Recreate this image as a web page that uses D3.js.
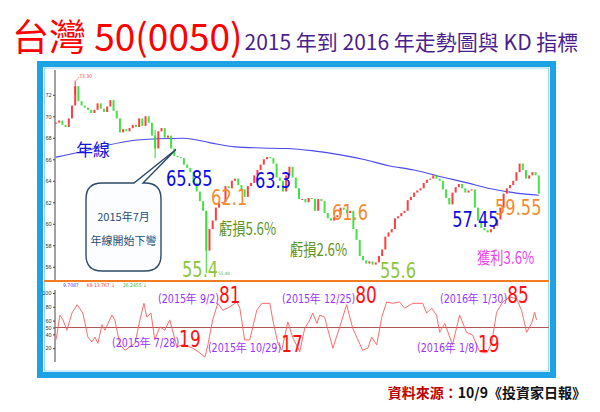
<!DOCTYPE html>
<html>
<head>
<meta charset="utf-8">
<script src="https://cdn.jsdelivr.net/npm/d3@7"></script>
<style>
  body { margin: 0; background: #fff; }
  svg text { font-family: "Noto Sans CJK TC", sans-serif; }
  .num { font-family: "Liberation Sans Narrow", "DejaVu Sans Condensed", "Liberation Sans", sans-serif; }
  .ax text { font-family: "Liberation Sans Narrow", "Liberation Sans", sans-serif; font-size: 5.5px; fill: #333; }
  .ax path, .ax line { stroke: #444; }
</style>
</head>
<body>
<svg id="chart" width="600" height="412"></svg>
<script>
// closing prices, one bar per two trading days
const closes = [
  69.4, 69.6, 69.2, 69.0, 69.8, 71.0, 72.8, 71.4, 71.0, 70.8,
  70.6, 70.3, 70.6, 71.2, 70.7, 70.4, 70.9, 71.5, 70.5, 69.8,
  68.5, 68.8, 68.6, 68.9, 69.2, 69.0, 69.8, 69.1, 70.0, 69.4,
  68.2, 67.0, 68.6, 68.9, 68.0, 68.2, 67.0, 66.3, 66.2, 66.1,
  65.5, 65.2, 64.8, 63.8, 63.0, 62.1, 61.2, 57.5, 59.5, 60.3,
  61.5, 61.9, 62.0, 63.5, 63.3, 64.0, 64.2, 63.6, 63.2, 62.5,
  63.5, 63.8, 64.5, 65.0, 65.5, 66.0, 66.2, 66.1, 65.6, 64.3,
  64.0, 63.0, 64.5, 65.3, 64.3, 63.3, 62.3, 62.3, 62.0, 62.4,
  62.3, 61.2, 62.3, 62.1, 61.0, 60.5, 60.3, 60.6, 60.8, 61.5,
  61.3, 61.0, 61.2, 59.5, 58.5, 57.0, 56.6, 56.3, 56.5, 56.2,
  56.4, 57.0, 57.6, 58.8, 59.2, 59.5, 60.5, 60.7, 61.0, 61.2,
  62.2, 62.5, 62.9, 63.1, 63.3, 63.8, 64.1, 64.2, 64.5, 64.2,
  64.0, 63.2, 62.4, 61.8, 62.9, 63.4, 63.7, 63.3, 62.9, 63.1,
  63.2, 61.5, 60.3, 59.6, 59.4, 59.2, 59.5, 59.8, 60.4, 61.5,
  62.8, 63.3, 63.6, 64.0, 64.8, 65.6, 65.0, 64.2, 64.5, 64.8,
  64.5, 62.8
];

// bars with long shadows
const spikeBars = [6, 31, 47];
const spikeHigh = [73.3, 68.7, 61.2];
const spikeLow = [72.0, 66.1, 55.4];

// x axis date labels, one every 8 bars
const dateLabels = [
  "2015/04/08", "2015/04/30", "2015/05/21", "2015/06/12", "2015/07/07",
  "2015/07/30", "2015/08/21", "2015/09/14", "2015/10/08", "2015/11/02",
  "2015/11/24", "2015/12/16", "2016/01/08", "2016/01/30", "2016/03/03",
  "2016/03/25", "2016/04/20", "2016/05/13", "2016/06/04", "2016/06/28"
];

// 年線 (yearly moving average)
const maBars = [0, 8, 16, 24, 32, 40, 48, 56, 64, 72, 80, 88, 96, 104, 112, 120, 128, 136, 144, 151];
const maValues = [66.2, 66.7, 67.3, 67.75, 67.9, 67.95, 67.55, 67.15, 67.05, 67.0,
                  66.8, 66.45, 66.0, 65.4, 65.0, 64.4, 63.85, 63.25, 62.85, 62.65];

// K9 line
const kdBars = [0, 1.25, 2.2, 3.4, 5, 6.6, 8.4, 10, 11.25, 12.2, 13.1, 14.4, 15.3, 17.5, 18.4,
  20, 21.6, 23.1, 24.7, 26.25, 27.5, 28.4, 29.7, 30.9, 32.5, 34, 35.6, 37.8, 39.7, 42.8,
  45, 46.6, 47.5, 49, 50.6, 52.2, 54.4, 56.6, 57.5, 59, 60.6, 62.8, 64.4, 66.9, 67.8,
  69.4, 70.6, 72.5, 74, 76.25, 77.8, 79.4, 80.3, 81.6, 82.5, 84, 86.6, 88.75, 90.9, 92.8,
  95.9, 97.5, 98.75, 100.3, 101.9, 103.4, 105.3, 107.5, 109, 111.6, 114.7, 115.9, 117.5, 119, 120,
  121.6, 124, 126.25, 128.4, 130.3, 132.5, 134.7, 136.25, 137.8, 139.7, 141.9, 144, 145.6, 147.2, 148.75,
  149.7, 150.3];
const kdValues = [32, 68, 61, 46, 71, 83, 71, 36, 29, 36, 27, 54, 46, 68, 61,
  25, 17, 22, 27, 61, 85, 65, 71, 32, 51, 46, 61, 22, 25, 20,
  13, 7, 25, 61, 85, 75, 80, 87, 78, 32, 32, 75, 85, 85, 61,
  27, 17, 58, 36, 15, 49, 61, 71, 56, 68, 65, 20, 51, 83, 49,
  17, 20, 36, 25, 65, 87, 85, 87, 78, 85, 85, 71, 78, 68, 43,
  56, 25, 68, 43, 39, 15, 13, 27, 72, 87, 94, 92, 75, 43, 56,
  72, 61];

const priceTicks = [56, 58, 60, 62, 64, 66, 68, 70, 72];
const kdTicks = [20, 40, 50, 60, 80, 100];

const svg = d3.select("#chart");

// frame
svg.append("rect").attr("x", 40).attr("y", 64).attr("width", 513).attr("height", 311)
  .attr("fill", "#fff").attr("stroke", "#1ea2e6").attr("stroke-width", 6);
svg.append("rect").attr("x", 44.5).attr("y", 68).attr("width", 504).attr("height", 303)
  .attr("fill", "none").attr("stroke", "#9ad6f3").attr("stroke-width", 1);

const x = d3.scaleLinear().domain([0, 152]).range([56, 542]);
const y = d3.scaleLinear().domain([55, 74]).range([277.5, 73.25]);
const yk = d3.scaleLinear().domain([0, 100]).range([362, 293]);

const defs = svg.append("defs");
defs.append("clipPath").attr("id", "plot").append("rect")
  .attr("x", 45).attr("y", 68).attr("width", 503).attr("height", 304);

// main panel axis
svg.append("g").attr("class", "ax").attr("transform", "translate(55,0)")
  .call(d3.axisLeft(y).tickValues(priceTicks).tickSize(2).tickPadding(1.5))
  .call(g => g.select(".domain").attr("d", "M0,70V281"));

// separator
svg.append("line").attr("x1", 44).attr("x2", 549).attr("y1", 281).attr("y2", 281)
  .attr("stroke", "#f47c20").attr("stroke-width", 2);

// MA line
svg.append("path")
  .datum(maBars.map((b, i) => [b, maValues[i]]))
  .attr("fill", "none").attr("stroke", "#4a4ae8").attr("stroke-width", 1.1)
  .attr("d", d3.line().x(d => x(d[0])).y(d => y(d[1])).curve(d3.curveMonotoneX));

// candles
const bars = closes.map((c, i) => ({ i, c, o: i ? closes[i - 1] : c }));
const cg = svg.append("g").attr("clip-path", "url(#plot)");
spikeBars.forEach((b, k) => {
  cg.append("line").attr("x1", x(b)).attr("x2", x(b))
    .attr("y1", y(spikeHigh[k])).attr("y2", y(spikeLow[k]))
    .attr("stroke", closes[b] >= closes[b - 1] ? "#ff3030" : "#30d830").attr("stroke-width", 1);
});
cg.selectAll(".bar").data(bars).join("rect")
  .attr("x", d => x(d.i) - 1)
  .attr("width", 2)
  .attr("y", d => y(Math.max(d.o, d.c)))
  .attr("height", d => Math.max(1, Math.abs(y(d.o) - y(d.c))))
  .attr("fill", d => d.c >= d.o ? "#ff2a2a" : "#2ee02e")
  .attr("opacity", 0.9);

// tiny high / low marks
svg.append("line").attr("x1", x(6) + 1).attr("y1", y(73.3)).attr("x2", x(6) + 4).attr("y2", y(73.3) - 4)
  .attr("stroke", "#ff5555").attr("stroke-width", 0.6);
svg.append("text").attr("class", "num").attr("x", x(6) + 4).attr("y", y(73.3) - 3)
  .attr("font-size", 5).attr("fill", "#ff4444").text("73.30");
svg.append("text").attr("class", "num").attr("x", x(47) + 12).attr("y", y(55.4) + 2)
  .attr("font-size", 4.5).attr("fill", "#44bb44").text("55.40");

// 年線 label
svg.append("text").attr("x", 76).attr("y", 156).attr("font-size", 17)
  .attr("fill", "#1414d8").text("年線");

// callout bubble
const bx0 = 86, bx1 = 161, by0 = 183, by1 = 271, r = 16;
const tip = [x(37.5), y(66.9)];
const bubble = d3.path();
bubble.moveTo(bx0 + r, by0);
bubble.lineTo(134, by0);
bubble.lineTo(tip[0], tip[1]);
bubble.lineTo(143, by0);
bubble.lineTo(bx1 - r, by0);
bubble.quadraticCurveTo(bx1, by0, bx1, by0 + r);
bubble.lineTo(bx1, by1 - r);
bubble.quadraticCurveTo(bx1, by1, bx1 - r, by1);
bubble.lineTo(bx0 + r, by1);
bubble.quadraticCurveTo(bx0, by1, bx0, by1 - r);
bubble.lineTo(bx0, by0 + r);
bubble.quadraticCurveTo(bx0, by0, bx0 + r, by0);
svg.append("path").attr("d", bubble.toString())
  .attr("fill", "#fbfdff").attr("stroke", "#2c4a6a").attr("stroke-width", 1.4);
svg.append("text").attr("x", 123.5).attr("y", 221).attr("text-anchor", "middle")
  .attr("font-size", 11).attr("fill", "#1f4e79").text("2015年7月");
svg.append("text").attr("x", 123.5).attr("y", 245).attr("text-anchor", "middle")
  .attr("font-size", 11).attr("fill", "#1f4e79").text("年線開始下彎");

// price annotations
const notes = [
  { t: "65.85", b: 34.4, p: 63.5, c: "#0a0ae6", num: true },
  { t: "62.1", b: 48.5, p: 61.74, c: "#f28c2e", num: true },
  { t: "63.3", b: 62.2, p: 63.33, c: "#0a0ae6", num: true },
  { t: "55.4", b: 39.4, p: 55.05, c: "#8cc63e", num: true },
  { t: "61.6", b: 86.3, p: 60.35, c: "#f28c2e", num: true },
  { t: "55.6", b: 101.3, p: 54.95, c: "#8cc63e", num: true },
  { t: "57.45", b: 123.9, p: 59.7, c: "#0a0ae6", num: true },
  { t: "59.55", b: 137.3, p: 60.81, c: "#f28c2e", num: true },
  { t: "虧損5.6%", b: 51, p: 58.95, c: "#5e9426", num: false },
  { t: "虧損2.6%", b: 73.2, p: 57.0, c: "#5e9426", num: false },
  { t: "獲利3.6%", b: 131.7, p: 56.26, c: "#ee44ee", num: false }
];
notes.forEach(n => {
  svg.append("text")
    .attr("class", n.num ? "num" : null)
    .attr("transform", `translate(${x(n.b)},${y(n.p)}) scale(${n.num ? 0.86 : 0.78},1)`)
    .attr("font-size", n.num ? 21 : 17)
    .attr("fill", n.c).text(n.t);
});

// KD panel
svg.append("g").attr("class", "ax").attr("transform", "translate(55,0)")
  .call(d3.axisLeft(yk).tickValues(kdTicks).tickSize(2).tickPadding(1.5))
  .call(g => g.select(".domain").attr("d", "M0,290V362"));
svg.append("line").attr("x1", 55).attr("x2", 549).attr("y1", yk(50)).attr("y2", yk(50))
  .attr("stroke", "#b05555").attr("stroke-width", 1.2);
svg.append("path")
  .datum(kdBars.map((b, i) => [b, kdValues[i]]))
  .attr("fill", "none").attr("stroke", "#ff5a5a").attr("stroke-width", 0.9)
  .attr("d", d3.line().x(d => x(d[0])).y(d => yk(d[1])));

// KD legend
const leg = svg.append("text").attr("class", "num").attr("x", 63).attr("y", 287).attr("font-size", 5);
leg.append("tspan").attr("fill", "#3344ff").text("9.7087");
leg.append("tspan").attr("dx", 8).attr("fill", "#ff3333").text("K9 13.767 ↓");
leg.append("tspan").attr("dx", 8).attr("fill", "#33bb33").text("26.2455 ↓");

// KD annotations
const kdNotes = [
  { d: "(2015年 9/2)", v: "81", b: 31.9, k: 85.5 },
  { d: "(2015年 7/28)", v: "19", b: 17.5, k: 21.7 },
  { d: "(2015年 10/29)", v: "17", b: 47.5, k: 14.5 },
  { d: "(2015年 12/25)", v: "80", b: 70.7, k: 85.5 },
  { d: "(2016年 1/8)", v: "19", b: 112.9, k: 14.5 },
  { d: "(2016年 1/30)", v: "85", b: 120.1, k: 85.5 }
];
kdNotes.forEach(n => {
  const t = svg.append("text").attr("class", "num")
    .attr("transform", `translate(${x(n.b)},${yk(n.k)}) scale(0.82,1)`);
  t.append("tspan").attr("font-size", 13).attr("fill", "#9933ff").text(n.d);
  t.append("tspan").attr("font-size", 23).attr("fill", "#ff1111").text(n.v);
});

// date axis
svg.append("g").attr("class", "ax").attr("transform", "translate(0,361)")
  .attr("clip-path", "url(#plot)")
  .call(d3.axisBottom(x).tickValues(dateLabels.map((d, i) => i * 8))
    .tickFormat((d, i) => dateLabels[i]).tickSize(2).tickPadding(1))
  .call(g => g.select(".domain").attr("d", "M-1,0H549"));

// titles
const title = svg.append("text").attr("x", 12).attr("y", 51).attr("font-size", 37)
  .attr("fill", "#ff0000").text("台灣 50(0050)");
const tEnd = 12 + title.node().getComputedTextLength();
svg.append("text").attr("x", tEnd + 2).attr("y", 50).attr("font-size", 21)
  .attr("fill", "#4b1e8e").text("2015 年到 2016 年走勢圖與 KD 指標");

const src = svg.append("text").attr("x", 586).attr("y", 398).attr("text-anchor", "end")
  .attr("font-size", 14).attr("font-weight", "bold");
src.append("tspan").attr("fill", "#c00000").text("資料來源：");
src.append("tspan").attr("fill", "#111").text("10/9《投資家日報》");
</script>
</body>
</html>
